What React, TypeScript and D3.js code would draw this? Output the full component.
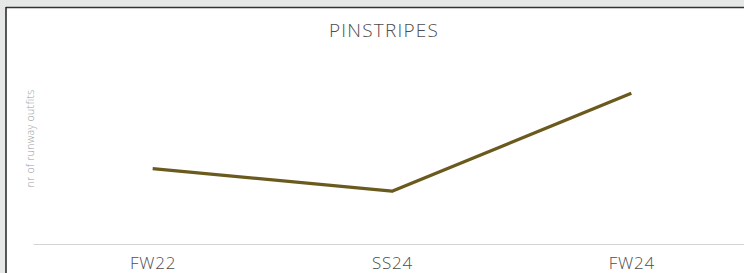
import React, { useEffect, useRef } from "react";
import * as d3 from "d3";

const width = 744;
const height = 273;
const margin = { top: 48, right: -7, bottom: 29, left: 33 };

const seasons = ["FW22", "SS24", "FW24"];
const outfits = [10, 7, 20];
const title = "PINSTRIPES";
const yLabel = "nr of runway outfits";

const lineColor = "#6b5a1e";
const textColor = "#4d4d4d";
const font = "'Open Sans', 'Noto Sans', sans-serif";

export default function App() {
  const ref = useRef<SVGSVGElement>(null);

  useEffect(() => {
    const svg = d3.select(ref.current);
    svg.selectAll("*").remove();

    const x = d3
      .scalePoint<string>()
      .domain(seasons)
      .range([margin.left, width - margin.right])
      .padding(0.5);
    const y = d3
      .scaleLinear()
      .domain([0, 26])
      .range([height - margin.bottom, margin.top]);

    // page frame around the chart card
    svg.append("rect").attr("width", width).attr("height", height).attr("fill", "#e6e8e8");
    svg.append("rect").attr("x", 6).attr("y", 8).attr("width", width).attr("height", height).attr("fill", "#fff");
    svg.append("line").attr("x1", 6).attr("x2", width).attr("y1", 7.5).attr("y2", 7.5)
      .attr("stroke", "#333").attr("stroke-width", 1.5);
    svg.append("line").attr("x1", 6).attr("x2", 6).attr("y1", 7).attr("y2", height)
      .attr("stroke", "#222").attr("stroke-width", 1.5);

    svg.append("text")
      .attr("x", 384).attr("y", 37)
      .attr("text-anchor", "middle")
      .attr("font-family", font).attr("font-size", 19).attr("font-weight", 300)
      .attr("letter-spacing", 1.2)
      .attr("fill", textColor)
      .text(title);

    svg.append("text")
      .attr("transform", `translate(34,${(92 + 185) / 2}) rotate(-90)`)
      .attr("text-anchor", "middle")
      .attr("font-family", font).attr("font-size", 10.5).attr("font-weight", 300)
      .attr("letter-spacing", 0.3)
      .attr("fill", "#a0a0a0")
      .text(yLabel);

    const xAxis = svg.append("g")
      .attr("transform", `translate(0,${y(0)})`)
      .call(d3.axisBottom(x).tickSize(0).tickPadding(13));
    xAxis.select(".domain").attr("stroke", "#d4d4d4").attr("stroke-width", 1.2);
    xAxis.selectAll("text")
      .attr("font-family", font).attr("font-size", 17).attr("font-weight", 300)
      .attr("letter-spacing", 0.8)
      .attr("fill", textColor);

    const line = d3.line<number>()
      .x((_, i) => x(seasons[i]) as number)
      .y((d) => y(d));

    svg.append("path")
      .datum(outfits)
      .attr("d", line)
      .attr("fill", "none")
      .attr("stroke", lineColor)
      .attr("stroke-width", 3.3)
      .attr("stroke-linejoin", "round");
  }, []);

  return (
    <div style={{ position: "absolute", left: 0, top: 0 }}>
      <svg ref={ref} width={width} height={height} style={{ display: "block" }} />
    </div>
  );
}
